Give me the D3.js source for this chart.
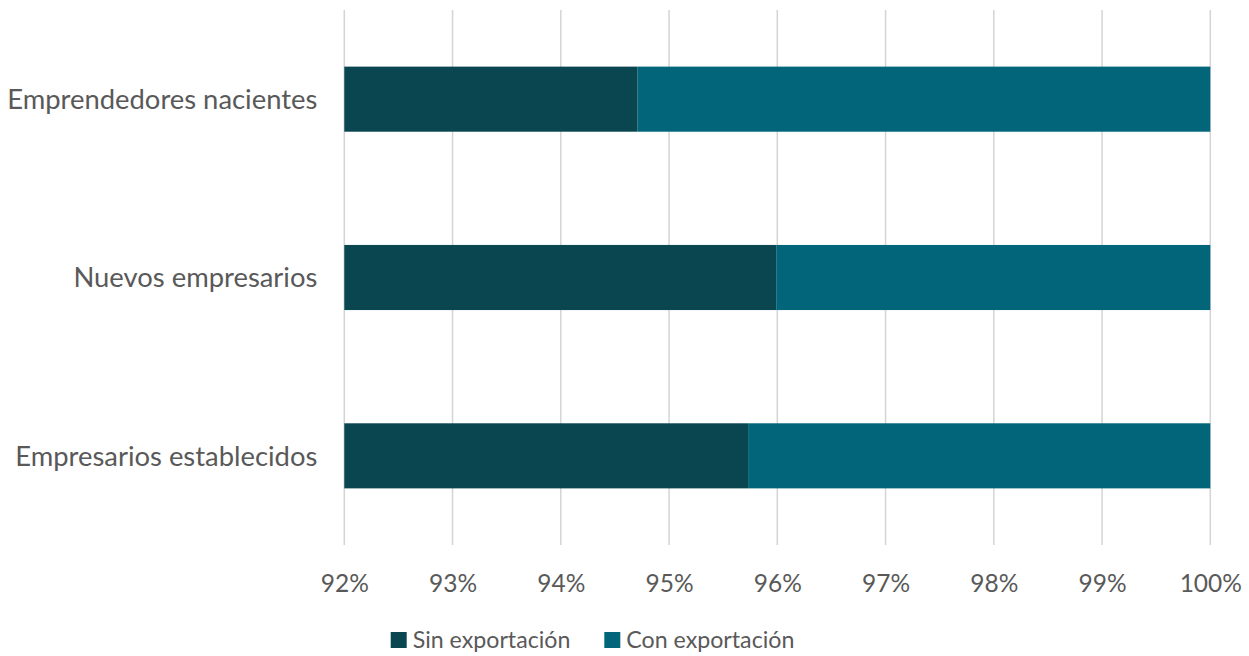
<!DOCTYPE html>
<html>
<head>
<meta charset="utf-8">
<script src="https://cdn.jsdelivr.net/npm/d3@7"></script>
<style>
  html, body { margin: 0; padding: 0; background: #fff; }
  svg { display: block; font-family: Lato, "Open Sans", sans-serif; }
</style>
</head>
<body>
<svg id="chart" width="1249" height="656"></svg>
<script>
// Categories (top to bottom) and shares of each group, in percent
const categories = ["Emprendedores nacientes", "Nuevos empresarios", "Empresarios establecidos"];
const sinExportacion = [94.71, 95.99, 95.73];
const conExportacion = [5.29, 4.01, 4.27];
const seriesNames = ["Sin exportación", "Con exportación"];
const seriesColors = ["#0A4650", "#02657A"];
const tickValues = [92, 93, 94, 95, 96, 97, 98, 99, 100];

const svg = d3.select("#chart");
const margin = { left: 344.3, right: 1249 - 1210.3, top: 10, bottom: 656 - 545 };
const W = 1249, H = 656;

const x = d3.scaleLinear().domain([92, 100]).range([margin.left, W - margin.right]);
const y = d3.scaleBand().domain(categories)
  .range([margin.top, H - margin.bottom])
  .paddingInner(0.635).paddingOuter(0.3175);

const textColor = "#595959";

// Vertical gridlines
svg.append("g").selectAll("line").data(tickValues).join("line")
  .attr("x1", d => x(d)).attr("x2", d => x(d))
  .attr("y1", margin.top).attr("y2", H - margin.bottom)
  .attr("stroke", "#D4D4D4").attr("stroke-width", 1.5);

// Stacked bars
const rows = categories.map((c, i) => ({ cat: c, parts: [sinExportacion[i], conExportacion[i]] }));
const barG = svg.append("g");
rows.forEach(r => {
  let start = 0;
  r.parts.forEach((v, k) => {
    const x0 = k === 0 ? 92 : start;
    const x1 = start + v;
    barG.append("rect")
      .attr("x", x(x0))
      .attr("width", x(Math.min(x1, 100)) - x(x0))
      .attr("y", y(r.cat))
      .attr("height", y.bandwidth())
      .attr("fill", seriesColors[k]);
    start = x1;
  });
});

// X axis tick labels
const xAxis = d3.axisBottom(x).tickValues(tickValues).tickFormat(d => d + "%").tickSize(0);
const gx = svg.append("g").attr("transform", `translate(0,${H - margin.bottom})`).call(xAxis);
gx.select(".domain").remove();
gx.selectAll("text")
  .attr("fill", textColor)
  .attr("font-size", 24.5)
  .attr("font-family", "Lato, sans-serif")
  .attr("dy", 0).attr("y", 46.5);

// Y axis category labels
const yAxis = d3.axisLeft(y).tickSize(0);
const gy = svg.append("g").attr("transform", `translate(${margin.left - 27},0)`).call(yAxis);
gy.select(".domain").remove();
gy.selectAll("text")
  .attr("fill", textColor)
  .attr("font-size", 27.4)
  .attr("font-family", "Lato, sans-serif")
  .attr("x", 0).attr("dy", "0.36em");

// Legend
const legendItems = [
  { name: seriesNames[0], color: seriesColors[0], x: 390.7 },
  { name: seriesNames[1], color: seriesColors[1], x: 604.3 }
];
const lg = svg.append("g");
legendItems.forEach(it => {
  lg.append("rect").attr("x", it.x).attr("y", 632).attr("width", 16).attr("height", 16).attr("fill", it.color);
  lg.append("text").attr("x", it.x + 22).attr("y", 648)
    .attr("fill", textColor).attr("font-size", 23.2).text(it.name);
});
</script>
</body>
</html>
